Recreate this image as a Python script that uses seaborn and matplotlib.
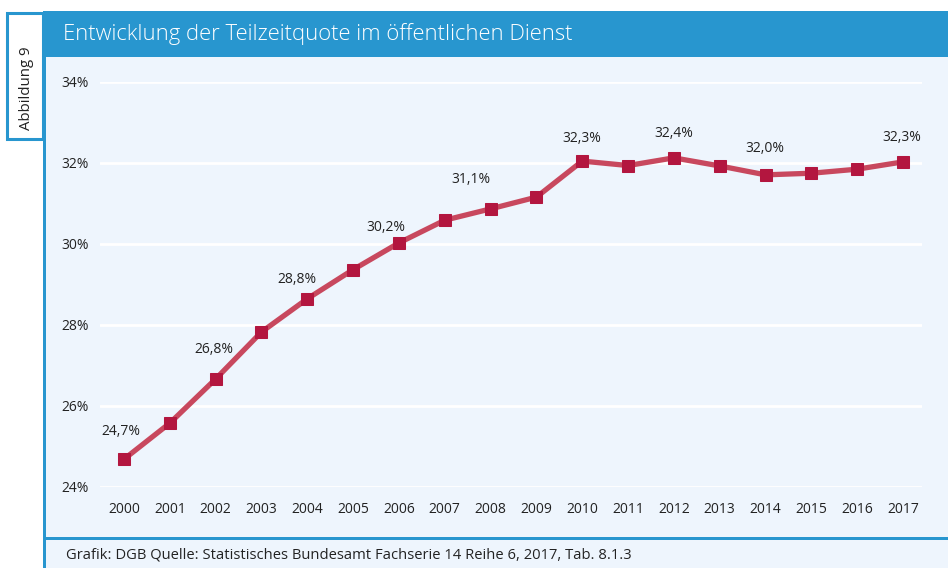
import matplotlib
matplotlib.use('Agg')
import matplotlib.pyplot as plt
import matplotlib.patches as mpatches
from matplotlib import font_manager
import seaborn as sns
import pandas as pd

# data
years = list(range(2000, 2018))
quote = [24.68, 25.57, 26.66, 27.82, 28.64, 29.36, 30.02, 30.58, 30.86, 31.15,
         32.04, 31.93, 32.12, 31.92, 31.70, 31.74, 31.84, 32.02]
label_years = [2000, 2002, 2004, 2006, 2008, 2010, 2012, 2014, 2017]
label_texts = ['24,7%', '26,8%', '28,8%', '30,2%', '31,1%', '32,3%', '32,4%', '32,0%', '32,3%']
y_ticks = [24, 26, 28, 30, 32, 34]
y_ticklabels = ['24%', '26%', '28%', '30%', '32%', '34%']

title = 'Entwicklung der Teilzeitquote im öffentlichen Dienst'
source = 'Grafik: DGB Quelle: Statistisches Bundesamt Fachserie 14 Reihe 6, 2017, Tab. 8.1.3'

df = pd.DataFrame({'Jahr': years, 'Quote': quote})

sns.set_style('white')
plt.rcParams['font.family'] = ['Open Sans', 'DejaVu Sans']
fs = 10

BLUE = '#2896cf'
BG = '#eef5fd'
TXT = '#222222'
W, H = 948, 568

fig = plt.figure(figsize=(W / 100, H / 100), dpi=100)
fig.patch.set_facecolor('white')


def px_rect(x0, y0, x1, y1, **kw):
    # rectangle given in pixel coords from the top left
    r = mpatches.Rectangle((x0 / W, 1 - y1 / H), (x1 - x0) / W, (y1 - y0) / H,
                           transform=fig.transFigure, **kw)
    fig.add_artist(r)
    return r


px_rect(45, 57, W, H, facecolor=BG, edgecolor='none', zorder=0)
px_rect(43, 11, W, 57, facecolor=BLUE, edgecolor='none', zorder=1)
px_rect(43, 11, 45.7, H, facecolor=BLUE, edgecolor='none', zorder=1)
px_rect(43, 536.5, W, 539.5, facecolor=BLUE, edgecolor='none', zorder=1)
px_rect(6.5, 13, 43, 138.5, facecolor='white', edgecolor=BLUE, linewidth=2.2, zorder=2)

fig.text(63 / W, 1 - 34 / H, title, color='white', fontsize=15.8, fontweight='light',
         va='center', ha='left', zorder=3)
fig.text(27 / W, 1 - 88 / H, 'Abbildung 9', rotation=90, fontsize=10.8, color=TXT,
         va='center', ha='center', zorder=3)
fig.text(66 / W, 1 - 555 / H, source, fontsize=10.6, color=TXT,
         va='center', ha='left', zorder=3)

ax = fig.add_axes([100 / W, 1 - 486.7 / H, 822 / W, 405 / H])
ax.set_facecolor('none')
ax.set_zorder(4)

sns.lineplot(data=df, x='Jahr', y='Quote', ax=ax, color='#c8485e', linewidth=3.8,
             marker='s', markersize=9.3, markerfacecolor='#b3163f',
             markeredgecolor='#b3163f', clip_on=False, zorder=3)

ax.set_xlim(2000 - 24 / 45.8, 2017 + 19 / 45.8)
ax.set_ylim(24, 34)
ax.set_xticks(years)
ax.set_xticklabels([str(y) for y in years], fontsize=fs, color=TXT)
ax.set_yticks(y_ticks)
ax.set_yticklabels(y_ticklabels, fontsize=fs, color=TXT)
ax.tick_params(axis='both', length=0)
ax.tick_params(axis='x', pad=11)
ax.tick_params(axis='y', pad=8)
ax.grid(axis='y', color='white', linewidth=2)
ax.set_axisbelow(True)
ax.set_xlabel('')
ax.set_ylabel('')
for s in ax.spines.values():
    s.set_visible(False)

# label offsets in pixels (dx, dy up)
offsets = [(-3, 28), (-2, 29), (-10, 19), (-13, 15), (-20, 29), (0, 23), (0, 24), (-1, 26), (-1, 24)]
for yr, txt, (dx, dy) in zip(label_years, label_texts, offsets):
    val = quote[years.index(yr)]
    ax.annotate(txt, (yr, val), xytext=(dx, dy), textcoords='offset pixels',
                ha='center', va='center', fontsize=fs, color=TXT)

fig.savefig('out.png', dpi=100, facecolor=fig.get_facecolor())
